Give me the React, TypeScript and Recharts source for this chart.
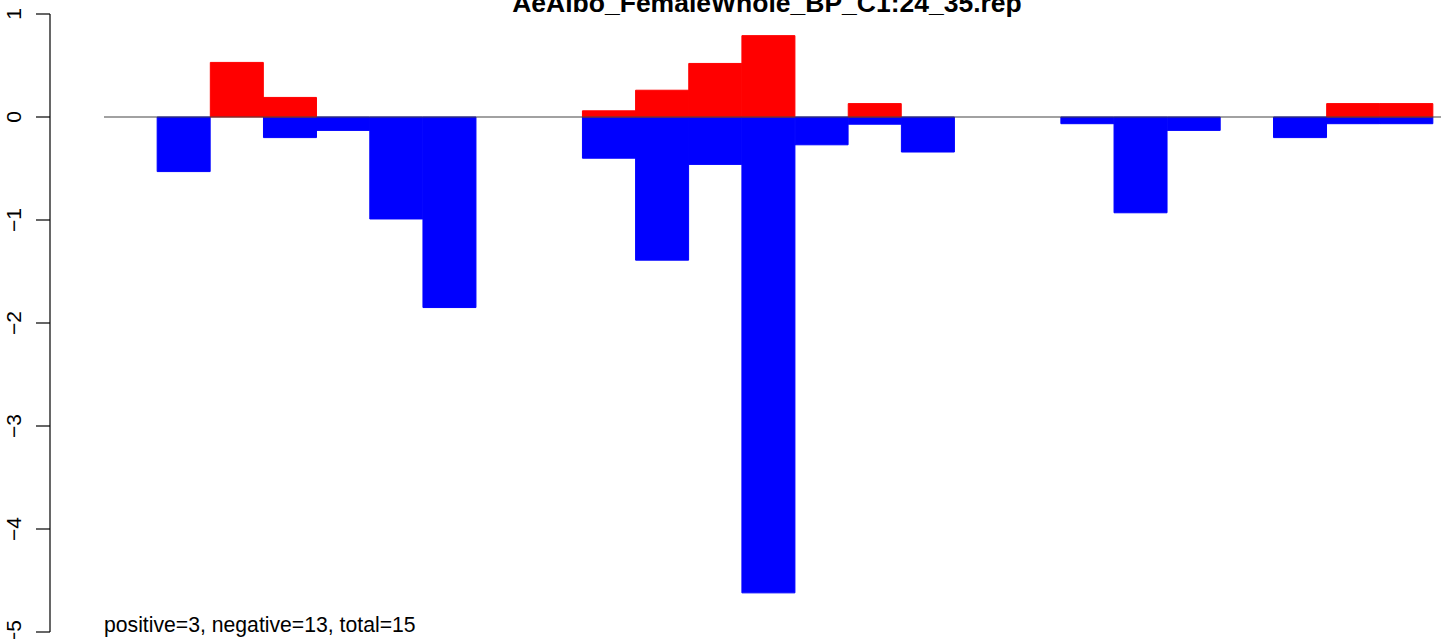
import React from 'react';
import { BarChart, Bar, XAxis, YAxis, ReferenceLine } from 'recharts';

// slot labels (not drawn, one per bar position)
const slots = [
    '1', '2', '3', '4', '5', '6', '7', '8', '9', '10', '11', '12', '13',
    '14', '15', '16', '17', '18', '19', '20', '21', '22', '23', '24', '25',
];

// red bars (positive)
const positiveValues = [
    0, 0, 0.53, 0.19, 0, 0, 0, 0, 0, 0.06, 0.26, 0.52, 0.79,
    0, 0.13, 0, 0, 0, 0, 0, 0, 0, 0, 0.13, 0.13,
];

// blue bars (negative)
const negativeValues = [
    0, -0.53, 0, -0.2, -0.13, -0.99, -1.85, 0, 0, -0.4, -1.39, -0.46, -4.62,
    -0.27, -0.07, -0.34, 0, 0, -0.065, -0.93, -0.13, 0, -0.2, -0.065, -0.065,
];

const yTicks = [-5, -4, -3, -2, -1, 0, 1];

const title = 'AeAlbo_FemaleWhole_BP_C1:24_35.rep';
const footnote = 'positive=3, negative=13, total=15';

const FONT = '"Liberation Sans", Arial, Helvetica, sans-serif';
const PAD_LEFT = 54;

const data = slots.map((slot, i) => ({
    slot,
    pos: positiveValues[i],
    neg: negativeValues[i],
}));

// R style rotated tick label
const RotatedTick = (props: any) => {
    const { x, y, payload } = props;
    const label = String(payload.value).replace('-', '\u2212');
    return (
        <text
            x={x}
            y={y}
            transform={`rotate(-90, ${x}, ${y})`}
            textAnchor="middle"
            fontFamily={FONT}
            fontSize={21}
            fill="#000"
        >
            {label}
        </text>
    );
};

// baseline starts where the first bar slot starts
const BaseLine = (props: any) => {
    const { x1, x2, y1 } = props;
    return <line x1={x1 + PAD_LEFT} x2={x2} y1={y1} y2={y1} stroke="#444" strokeWidth={1.2} />;
};

export default function App() {
    return (
        <div style={{ position: 'absolute', left: 0, top: 0, background: '#fff' }}>
            <BarChart
                width={1441}
                height={639}
                data={data}
                margin={{ top: 14, right: 0, bottom: 7, left: 0 }}
                barCategoryGap={0}
                barGap={0}
                stackOffset="sign"
            >
                <XAxis dataKey="slot" hide padding={{ left: PAD_LEFT, right: 8 }} />
                <YAxis
                    type="number"
                    domain={[-5, 1]}
                    ticks={yTicks}
                    width={50}
                    tickSize={14}
                    tickMargin={15}
                    axisLine={{ stroke: '#000', strokeWidth: 1.2 }}
                    tickLine={{ stroke: '#000', strokeWidth: 1.2 }}
                    tick={<RotatedTick />}
                    interval={0}
                    allowDataOverflow
                />
                <ReferenceLine y={0} shape={<BaseLine />} />
                <Bar dataKey="neg" stackId="a" fill="#0000FF" stroke="#0000FF" strokeWidth={1} isAnimationActive={false} />
                <Bar dataKey="pos" stackId="a" fill="#FF0000" stroke="#FF0000" strokeWidth={1} isAnimationActive={false} />
                <text x={767} y={12} textAnchor="middle" fontFamily={FONT} fontWeight="bold" fontSize={26.5} fill="#000">
                    {title}
                </text>
                <text x={104} y={632} textAnchor="start" fontFamily={FONT} fontSize={21.2} fill="#000">
                    {footnote}
                </text>
            </BarChart>
        </div>
    );
}
